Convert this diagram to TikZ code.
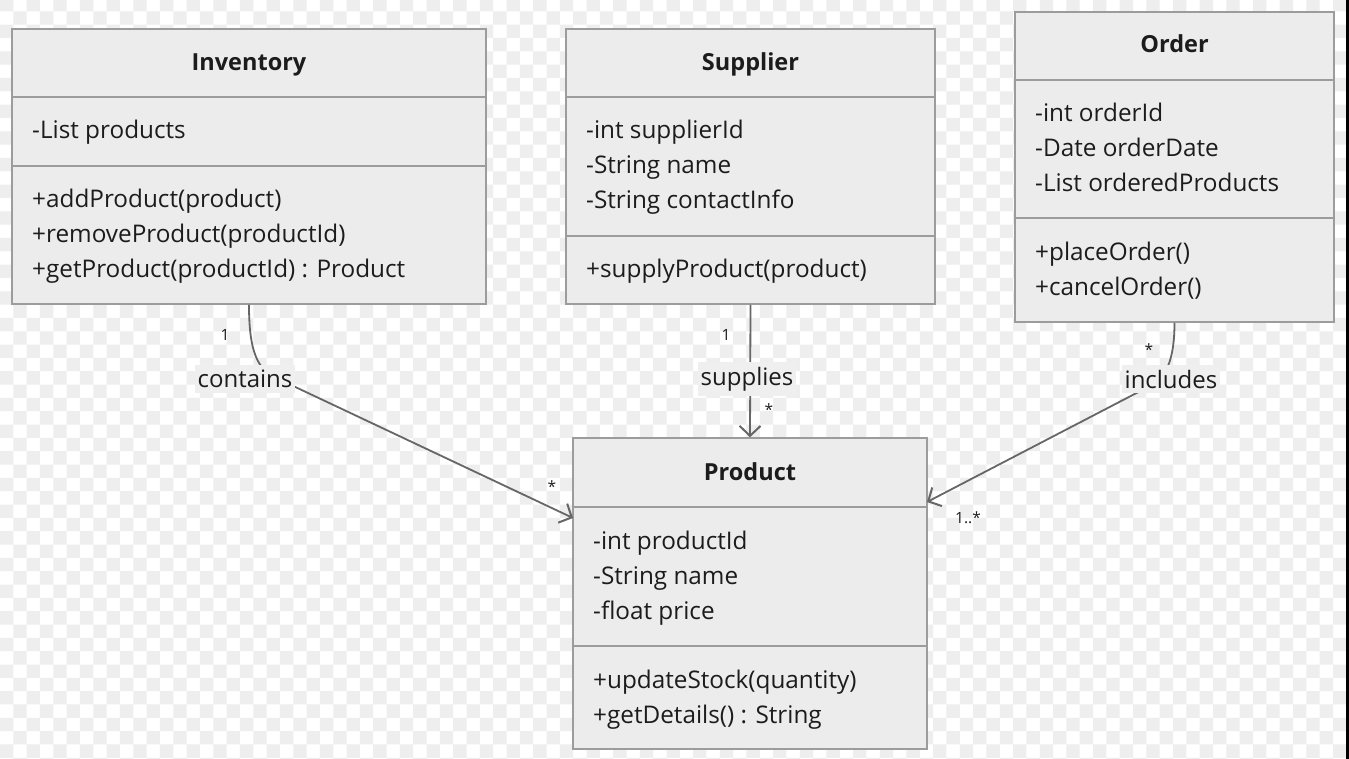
\documentclass[tikz,border=0pt]{standalone}
\usepackage{fontspec}
\setmainfont{Open Sans}
\usetikzlibrary{arrows.meta}
\definecolor{boxfill}{HTML}{ECECEC}
\definecolor{boxline}{HTML}{9C9C9C}
\definecolor{edgeline}{HTML}{666666}
\definecolor{labelfill}{HTML}{EFEFEF}
\definecolor{checker}{HTML}{EEEEEE}
\definecolor{ink}{HTML}{1C1C1C}
\tikzset{
  classbox/.style={draw=boxline, fill=boxfill, line width=1.5pt, inner sep=0pt},
  divider/.style={draw=boxline, line width=1.5pt},
  classname/.style={inner sep=0pt, anchor=base, text=ink, font=\fontsize{23.5}{28}\selectfont\bfseries},
  member/.style={inner sep=0pt, anchor=base west, text=ink, font=\fontsize{24.3}{28}\selectfont},
  assoc/.style={draw=edgeline, line width=1.8pt, -{Straight Barb[length=10pt,width=21pt,line width=2pt]}},
  rolelabel/.style={fill=labelfill, inner xsep=3pt, inner ysep=5pt, text=ink, font=\fontsize{24}{28}\selectfont},
  mult/.style={inner sep=0pt, text=ink, font=\fontsize{15.5}{18}\selectfont},
}
\begin{document}
\begin{tikzpicture}[x=1pt,y=-1pt]
\useasboundingbox (0,0) rectangle (1349,759);
% background
\fill[white] (0,0) rectangle (1349,759);
\fill[checker] foreach \j in {0,...,57} { foreach \i in {0,2,...,100} {
  ({(\i+mod(\j,2))*13.33},{\j*13.33-2}) rectangle ++(13.33,13.33) } };
\fill[black] (1346,0) rectangle (1349,759);

% classes
\node[classbox, minimum width=474pt, minimum height=275pt] (inv) at (249,166.5) {};
\draw[divider] (12,97) -- (486,97);
\draw[divider] (12,166) -- (486,166);
\node[classname] (inv-name) at (249,71) {Inventory};
\node[member] (inv-a1) at (32,139) {-List products};
\node[member] (inv-m1) at (32,208) {+addProduct(product)};
\node[member] (inv-m2) at (32,243) {+removeProduct(productId)};
\node[member] (inv-m3) at (32,278) {+getProduct(productId) : Product};

\node[classbox, minimum width=369pt, minimum height=275pt] (sup) at (750.5,166.5) {};
\draw[divider] (566,97) -- (935,97);
\draw[divider] (566,236) -- (935,236);
\node[classname] (sup-name) at (750.5,71) {Supplier};
\node[member] (sup-a1) at (586,139) {-int supplierId};
\node[member] (sup-a2) at (586,174) {-String name};
\node[member] (sup-a3) at (586,209) {-String contactInfo};
\node[member] (sup-m1) at (586,278) {+supplyProduct(product)};

\node[classbox, minimum width=319pt, minimum height=310pt] (ord) at (1174.5,167) {};
\draw[divider] (1015,80) -- (1334,80);
\draw[divider] (1015,218) -- (1334,218);
\node[classname] (ord-name) at (1174.5,53) {Order};
\node[member] (ord-a1) at (1035,122) {-int orderId};
\node[member] (ord-a2) at (1035,157) {-Date orderDate};
\node[member] (ord-a3) at (1035,192) {-List orderedProducts};
\node[member] (ord-m1) at (1035,261) {+placeOrder()};
\node[member] (ord-m2) at (1035,296) {+cancelOrder()};

\node[classbox, minimum width=354pt, minimum height=311pt] (prod) at (750,593.5) {};
\draw[divider] (573,507) -- (927,507);
\draw[divider] (573,646) -- (927,646);
\node[classname] (prod-name) at (750,480) {Product};
\node[member] (prod-a1) at (593,549) {-int productId};
\node[member] (prod-a2) at (593,584) {-String name};
\node[member] (prod-a3) at (593,619) {-float price};
\node[member] (prod-m1) at (593,688) {+updateStock(quantity)};
\node[member] (prod-m2) at (593,723) {+getDetails() : String};

% associations
\coordinate (prod-l) at (573,518);
\coordinate (prod-r) at (927,502);
\draw[assoc] (inv.south) .. controls (249,345) and (255,366) .. (272,376) -- (prod-l);
\draw[assoc] (sup.south) -- (prod.north);
\draw[assoc] (ord.south) .. controls (1174.5,360) and (1166,378) .. (1150,386) -- (prod-r);

\node[rolelabel] (contains) at (245,379) {contains};
\node[rolelabel] (supplies) at (747,379) {supplies};
\node[rolelabel] (includes) at (1171,379) {includes};

\node[mult] (inv-one) at (225,335) {1};
\node[mult] (inv-many) at (552,487) {*};
\node[mult] (sup-one) at (726,335) {1};
\node[mult] (sup-many) at (769,410) {*};
\node[mult] (ord-many) at (1149,350) {*};
\node[mult] (ord-range) at (968,518) {1..*};
\end{tikzpicture}
\end{document}
